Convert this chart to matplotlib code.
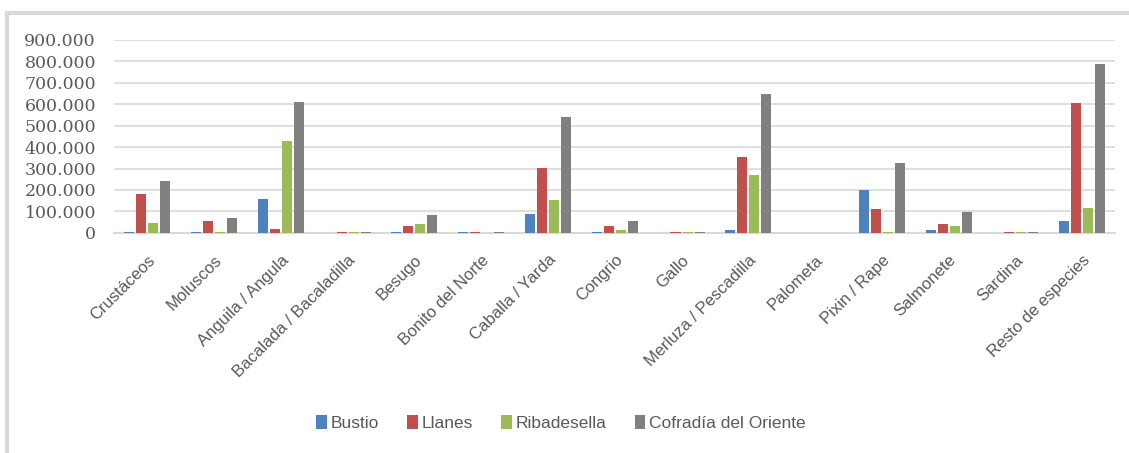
import matplotlib.pyplot as plt
import numpy as np
from matplotlib.ticker import FuncFormatter
from matplotlib.lines import Line2D

especies = ['Crustáceos', 'Moluscos', 'Anguila / Angula', 'Bacalada / Bacaladilla',
            'Besugo', 'Bonito del Norte', 'Caballa / Yarda', 'Congrio', 'Gallo',
            'Merluza / Pescadilla', 'Palometa', 'Pixin / Rape', 'Salmonete',
            'Sardina', 'Resto de especies']
bustio = [5000, 4000, 160000, 0, 4000, 4000, 90000, 4000, 0, 15000, 0, 202000, 11000, 0, 53000]
llanes = [183000, 54000, 17000, 4000, 34000, 4000, 304000, 34000, 4000, 356000, 0, 109000, 39000, 4000, 607000]
ribadesella = [48000, 5000, 430000, 4000, 39000, 0, 151000, 15000, 4000, 272000, 0, 4000, 34000, 4000, 118000]
cofradia = [244000, 67000, 612000, 4000, 81000, 4000, 542000, 57000, 4000, 649000, 0, 328000, 95000, 4000, 789000]

series = [('Bustio', bustio, '#4f81bd'), ('Llanes', llanes, '#c0504d'),
          ('Ribadesella', ribadesella, '#9bbb59'), ('Cofradía del Oriente', cofradia, '#808080')]

plt.rcParams['font.family'] = ['Liberation Sans', 'DejaVu Sans']

fig = plt.figure(figsize=(11.29, 4.53), dpi=100)
ax = fig.add_axes([0.101, 0.486, 0.887, 0.426])

x = np.arange(len(especies))
width = 0.15
step = 0.18
for i, (name, vals, col) in enumerate(series):
    ax.bar(x + (i - 1.5) * step, vals, width=width, color=col, label=name, zorder=3)

ax.set_xlim(-0.5, len(especies) - 0.5)
ax.set_ylim(0, 900000)
ax.set_yticks(np.arange(0, 900001, 100000))
ax.yaxis.set_major_formatter(FuncFormatter(lambda v, p: '{:,.0f}'.format(v).replace(',', '.')))
ax.grid(axis='y', color='#d9d9d9', linewidth=1.2, zorder=0)
for s in ['top', 'right', 'left']:
    ax.spines[s].set_visible(False)
ax.spines['bottom'].set_color('#d9d9d9')
ax.spines['bottom'].set_linewidth(1.5)
ax.tick_params(axis='both', length=0, colors='#595959')
ax.tick_params(axis='y', pad=13)
for lab in ax.get_yticklabels():
    lab.set_fontfamily('DejaVu Serif')
    lab.set_fontsize(12.5)
ax.set_xticks(x)
ax.set_xticklabels(especies, rotation=45, ha='right', rotation_mode='anchor',
                   fontsize=12, color='#595959')
ax.tick_params(axis='x', pad=14)

fig.legend(loc='center', bbox_to_anchor=(0.497, 0.066), ncol=4, frameon=False,
           fontsize=12.5, handlelength=0.6, handleheight=0.9, handletextpad=0.25,
           columnspacing=1.6, labelcolor='#595959')

# marco del gráfico (borde gris)
fig.add_artist(Line2D([0.0062, 1.0], [0.971, 0.971], color='#d9d9d9', linewidth=3,
                      transform=fig.transFigure))
fig.add_artist(Line2D([0.0062, 0.0062], [0.0, 0.971], color='#d9d9d9', linewidth=3,
                      transform=fig.transFigure))

fig.savefig('out.png', dpi=100)
